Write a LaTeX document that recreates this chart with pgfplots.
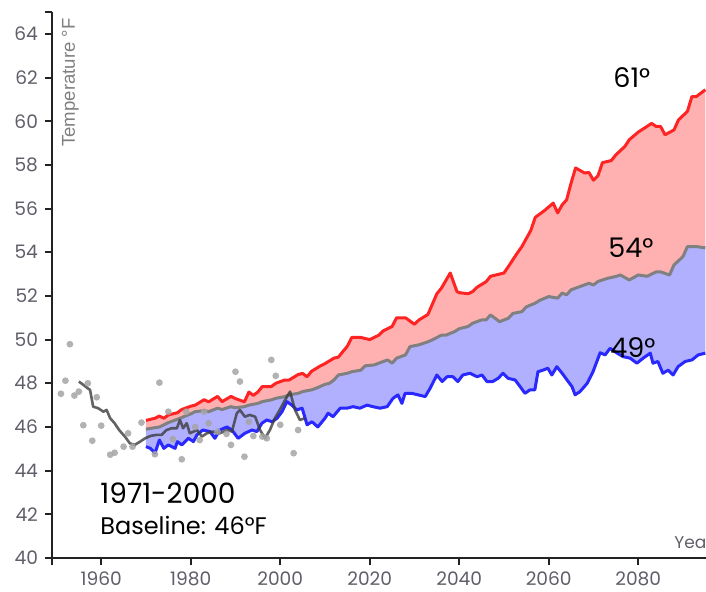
\documentclass[border=0pt]{standalone}
\usepackage{fontspec}
\setmainfont{Poppins}
\newfontfamily\arialf{Liberation Sans}
\usepackage{pgfplots}
\usepackage{pgfplotstable}
\pgfplotsset{compat=1.18}
\usepgfplotslibrary{fillbetween}

\definecolor{redl}{RGB}{255,36,36}
\definecolor{pinkf}{RGB}{255,176,176}
\definecolor{bluel}{RGB}{40,40,255}
\definecolor{bluef}{RGB}{176,176,255}
\definecolor{midl}{RGB}{128,128,128}
\definecolor{obsl}{RGB}{60,60,60}
\definecolor{dotc}{RGB}{165,165,165}
\definecolor{axisc}{RGB}{34,34,34}
\definecolor{tickc}{RGB}{95,95,105}

\pgfplotstableread{
x y
1970 46.3
1972 46.4
1973 46.5
1974 46.4
1975 46.55
1977 46.65
1978 46.8
1980 46.95
1981 47.0
1983 47.25
1984 47.15
1986 47.4
1987 47.16
1989 47.4
1990 47.3
1992 47.15
1993 47.6
1994 47.45
1995 47.6
1996 47.85
1998 47.85
1999 48.0
2001 48.15
2002 48.15
2004 48.4
2005 48.45
2006 48.3
2007 48.55
2009 48.8
2010 48.9
2012 49.15
2013 49.2
2015 49.7
2016 50.1
2018 50.1
2020 50.0
2022 50.2
2023 50.4
2025 50.6
2026 51.0
2028 51.0
2030 50.7
2031 50.9
2033 51.15
2035 52.1
2036 52.35
2038 53.05
2039.5 52.2
2040 52.15
2042 52.1
2043 52.2
2044 52.4
2046 52.65
2047 52.9
2048 52.95
2050 53.05
2051 53.35
2053 53.97
2054 54.26
2056 55.0
2057 55.6
2059 55.9
2061 56.25
2062 55.8
2063 56.17
2064 56.4
2065 57.17
2066 57.86
2068 57.63
2069 57.65
2070 57.3
2071 57.5
2072 58.1
2074 58.2
2075 58.46
2077 58.84
2078 59.15
2080 59.5
2083 59.9
2084 59.76
2085 59.76
2086 59.38
2088 59.6
2089 60.06
2091 60.45
2092 61.13
2093 61.13
2095 61.44
}\redtab

\pgfplotstableread{
x y
1970 45.9
1973 46.0
1975 46.2
1977 46.35
1980 46.6
1981 46.7
1983 46.75
1984 46.7
1986 46.86
1987 46.8
1989 46.93
1990 46.88
1992 46.93
1993 47.0
1995 47.08
1996 47.16
1998 47.24
1999 47.31
2001 47.39
2002 47.47
2004 47.54
2005 47.62
2007 47.7
2008 47.77
2010 47.95
2011 48.0
2012 48.15
2013 48.38
2015 48.46
2016 48.53
2018 48.6
2019 48.8
2021 48.84
2022 48.92
2024 49.07
2025 48.92
2026 49.15
2028 49.3
2029 49.68
2031 49.76
2033 49.9
2034 49.99
2036 50.2
2037 50.2
2039 50.37
2040 50.5
2042 50.6
2043 50.75
2045 50.9
2046 50.9
2047 51.13
2048 50.98
2049 50.82
2051 50.98
2052 51.2
2054 51.28
2055 51.5
2057 51.67
2058 51.8
2060 51.97
2062 51.9
2063 52.13
2064 52.05
2065 52.28
2067 52.43
2069 52.58
2070 52.5
2071 52.66
2073 52.8
2075 52.89
2076 52.96
2078 52.73
2080 52.96
2082 52.9
2084 53.1
2085 53.1
2087 52.96
2088 53.42
2090 53.8
2091 54.26
2093 54.26
2095 54.2
}\midtab

\pgfplotstableread{
x y
1970 45.1
1971 45.02
1972 44.8
1973 45.4
1974 45.02
1975 45.18
1976.5 45.02
1977 45.33
1978 45.18
1979.5 45.48
1980.6 45.33
1981.4 45.64
1982.7 45.86
1984.3 45.79
1985.4 45.48
1986.5 45.86
1988.1 46.0
1989.2 45.86
1990.6 45.48
1992.1 45.71
1993.7 45.86
1994.8 45.79
1995.9 46.17
1997 46.32
1998.2 46.24
1999.3 46.4
2000.4 46.7
2001.5 47.16
2002.6 47.0
2003.7 46.78
2004.9 46.86
2006 46.1
2007.1 46.24
2008.4 46.0
2010 46.4
2010.7 46.63
2011.8 46.47
2013.4 46.86
2014.9 46.86
2016.3 46.93
2017.8 46.86
2019.4 47.0
2020.7 46.93
2022.3 46.86
2023.9 46.93
2025.2 47.31
2026.3 47.47
2027.2 47.08
2027.9 47.54
2029.4 47.54
2030.8 47.47
2032.4 47.39
2033.5 47.77
2035 48.38
2036.2 48.08
2037.3 48.3
2038.6 48.3
2039.7 48.08
2040.8 48.38
2042.4 48.46
2044 48.3
2045.1 48.38
2046.2 48.08
2047.5 48.08
2048.7 48.23
2049.8 48.46
2050.9 48.23
2052.5 48.15
2053.6 47.85
2054.7 47.54
2055.8 47.7
2056.9 47.7
2057.6 48.53
2058.7 48.6
2059.8 48.69
2060.7 48.38
2061.8 48.76
2063 48.46
2064.1 48.15
2065.2 47.85
2065.9 47.47
2067 47.62
2068.6 48.0
2069.9 48.53
2071.5 49.4
2072.6 49.3
2073.7 49.6
2075.3 49.38
2076.6 49.22
2078.2 49.15
2079.7 48.92
2081.1 49.15
2082.7 49.38
2083.3 48.92
2084.4 49.0
2085.5 48.46
2086.7 48.6
2087.8 48.38
2088.9 48.76
2090.5 49.0
2092 49.07
2093.4 49.3
2095 49.38
}\bluetab

\pgfplotstableread{
x y
1955 48.08
1956 47.93
1957 47.77
1957.5 47.7
1958.2 46.93
1959.3 46.86
1960.5 46.7
1961.2 46.78
1962 46.4
1963 46.17
1964 45.86
1965.3 45.56
1966.4 45.25
1967.5 45.18
1968.7 45.33
1969.8 45.48
1971 45.59
1972.4 45.64
1973.5 45.64
1974.6 45.86
1975.7 45.94
1976.9 45.94
1977.6 46.32
1978.3 45.94
1979.1 46.17
1979.8 45.71
1981.4 45.86
1982.5 45.56
1983.6 45.71
1985 45.79
1986.5 45.71
1988.1 45.86
1989.2 45.79
1990.3 46.63
1991 46.78
1992.1 46.47
1993.2 46.55
1994.4 46.47
1995.5 45.86
1996.6 45.48
1997.7 45.86
1998.8 46.4
1999.9 46.78
2001.1 47.24
2002.2 47.62
2003.3 46.78
2004.4 46.32
2005.5 46.4
}\obstab

\pgfplotstableread{
x y
1951 47.52
1952 48.12
1953 49.79
1954 47.44
1955 47.62
1956 46.08
1957 48.0
1958 45.37
1959 47.36
1960 46.06
1962 44.73
1963 44.82
1965 45.1
1966 45.71
1967 45.1
1969 46.2
1972 44.75
1973 48.03
1975 46.7
1976 45.44
1978 44.52
1979 46.7
1981 46.0
1982 45.4
1983 46.7
1984 46.17
1986 45.79
1988 45.68
1989 45.18
1990 48.53
1991 48.08
1992 44.64
1993 46.24
1994 45.59
1996 45.56
1997 45.48
1998 49.07
1999 48.34
2000 46.1
2003 44.8
2004 45.86
}\dottab

\begin{document}
\begin{tikzpicture}
\begin{axis}[
  scale only axis, width=327pt, height=273pt,
  xmin=1949, xmax=2095.15, ymin=40, ymax=65,
  axis lines=left,
  axis line style={-, line width=1pt, draw=axisc},
  xtick={1960,1980,...,2080}, ytick={40,42,...,64},
  extra x ticks={1949}, extra x tick labels={},
  extra y ticks={65}, extra y tick labels={},
  tick align=outside, major tick length=3.5pt,
  tick style={line width=1pt, draw=axisc},
  ticklabel style={font=\fontsize{9.3}{10}\selectfont, text=tickc},
  /pgf/number format/assume math mode=true,
  /pgf/number format/1000 sep={},
  clip=false,
]
\coordinate (SW) at (rel axis cs:0,0);
\addplot[draw=none, name path=red] table[x=x,y=y] {\redtab};
\addplot[draw=none, name path=mid] table[x=x,y=y] {\midtab};
\addplot[draw=none, name path=blue] table[x=x,y=y] {\bluetab};
\addplot[fill=pinkf, draw=none] fill between[of=red and mid];
\addplot[fill=bluef, draw=none] fill between[of=mid and blue];
\addplot[only marks, color=dotc, mark=*, mark size=1.7pt, mark options={fill=dotc, draw=dotc, fill opacity=0.85, draw opacity=0}] table[x=x,y=y] {\dottab};
\addplot[bluel, line width=1.5pt, line join=round] table[x=x,y=y] {\bluetab};
\addplot[midl, line width=1.5pt, line join=round] table[x=x,y=y] {\midtab};
\addplot[redl, line width=1.5pt, line join=round] table[x=x,y=y] {\redtab};
\addplot[obsl, opacity=0.8, line width=1.3pt, line join=round] table[x=x,y=y] {\obstab};
\end{axis}
\node[anchor=base west, inner sep=0pt, font=\fontsize{14}{16}\selectfont] at ([shift={(24pt,27.5pt)}]SW) {1971-2000};
\node[anchor=base west, inner sep=0pt, font=\fontsize{12}{14}\selectfont] at ([shift={(24pt,12pt)}]SW) {Baseline: 46°F};
\node[anchor=base west, inner sep=0pt, font=\fontsize{13.5}{15}\selectfont] at ([shift={(280.5pt,235.5pt)}]SW) {61°};
\node[anchor=base west, inner sep=0pt, font=\fontsize{13.5}{15}\selectfont] at ([shift={(278pt,150.5pt)}]SW) {54°};
\node[anchor=base west, inner sep=0pt, font=\fontsize{13.5}{15}\selectfont] at ([shift={(279pt,100.5pt)}]SW) {49°};
\node[rotate=90, anchor=north east, inner sep=0pt, text=gray, font=\arialf\fontsize{9.3}{10}\selectfont] at ([shift={(4.8pt,270pt)}]SW) {Temperature °F};
\node[anchor=base west, inner sep=0pt, text=tickc, font=\fontsize{8.5}{10}\selectfont] at ([shift={(311pt,5pt)}]SW) {Year};
\pgfresetboundingbox
\path ([shift={(-26pt,-16.5pt)}]SW) rectangle ([shift={(327pt,279pt)}]SW);
\end{tikzpicture}
\end{document}
